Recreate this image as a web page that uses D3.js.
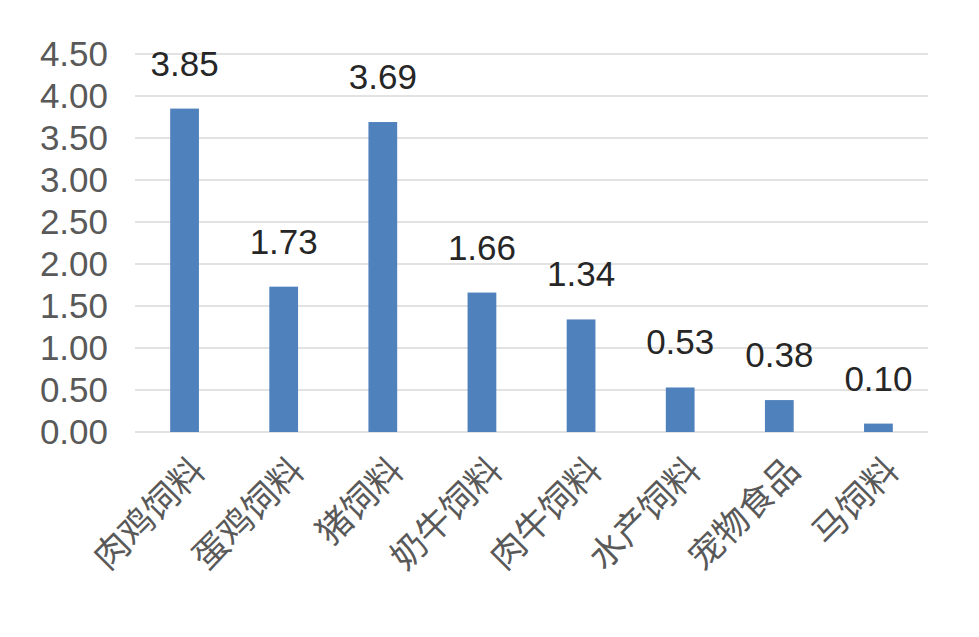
<!DOCTYPE html>
<html><head><meta charset="utf-8">
<script src="https://cdn.jsdelivr.net/npm/d3@7"></script>
<style>body{margin:0;background:#fff}</style>
</head><body>
<svg id="c" width="979" height="637"></svg>
<script>
var categories = ["肉鸡饲料","蛋鸡饲料","猪饲料","奶牛饲料","肉牛饲料","水产饲料","宠物食品","马饲料"];
var values = [3.85,1.73,3.69,1.66,1.34,0.53,0.38,0.10];
var ticks = [0,0.5,1,1.5,2,2.5,3,3.5,4,4.5];

var svg = d3.select("#c");
var font = "'Liberation Sans', Arial, 'Noto Sans CJK SC', sans-serif";
var x = d3.scaleBand().domain(categories).range([135, 928]).paddingInner(0.71).paddingOuter(0.355);
var y = d3.scaleLinear().domain([0, 4.5]).range([432, 54]);

// gridlines
svg.append("g").selectAll("line").data(ticks).join("line")
  .attr("x1", 135).attr("x2", 928)
  .attr("y1", d => y(d)).attr("y2", d => y(d))
  .attr("stroke", "#d9d9d9").attr("stroke-width", 1.5);

// y axis labels
svg.append("g").selectAll("text").data(ticks).join("text")
  .attr("x", 108).attr("y", d => y(d) + 12)
  .attr("text-anchor", "end")
  .style("font", "35px " + font).attr("fill", "#595959")
  .text(d => d.toFixed(2));

// bars
svg.append("g").selectAll("rect").data(values).join("rect")
  .attr("x", (d, i) => x(categories[i]))
  .attr("width", x.bandwidth())
  .attr("y", d => y(d))
  .attr("height", d => y(0) - y(d))
  .attr("fill", "#4f81bd");

// value labels
svg.append("g").selectAll("text").data(values).join("text")
  .attr("x", (d, i) => x(categories[i]) + x.bandwidth() / 2)
  .attr("y", d => y(d) - 33)
  .attr("text-anchor", "middle")
  .style("font", "35px " + font).attr("fill", "#262626")
  .text(d => d.toFixed(2));

// category labels rotated
svg.append("g").selectAll("text").data(categories).join("text")
  .attr("transform", d => "translate(" + (x(d) + x.bandwidth() / 2 + 14) + ",464) rotate(-45)")
  .attr("text-anchor", "end")
  .attr("dy", "0.35em")
  .style("font", "35px " + font).attr("fill", "#595959")
  .text(d => d);
</script>
</body></html>
